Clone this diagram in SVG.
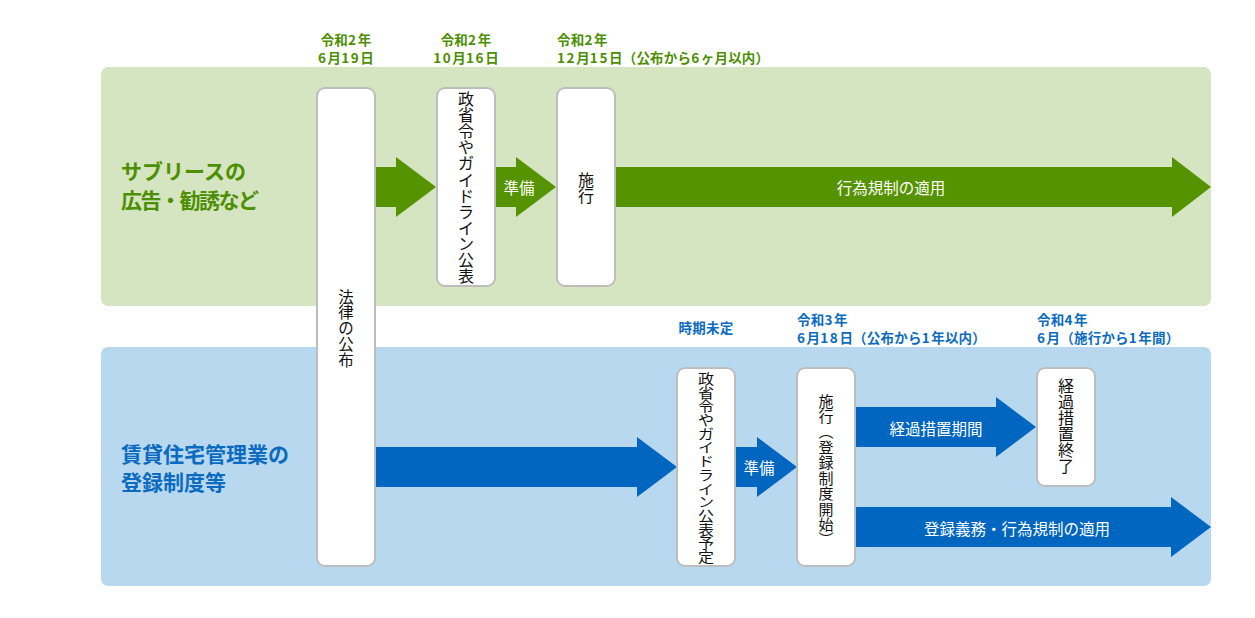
<svg xmlns="http://www.w3.org/2000/svg" width="1255" height="618" viewBox="0 0 1255 618">
<style>
.pg{fill:#d6e5c1}
.pb{fill:#b8d8ef}
.ag{fill:#559300}
.ab{fill:#0066bf}
.node rect{fill:#fff;stroke:#bdbdbd;stroke-width:2}
.vc{font-family:"Noto Sans CJK JP","Noto Sans",sans-serif;font-size:16px;fill:#111;text-anchor:middle;dominant-baseline:central}
.vt{font-family:"Noto Sans CJK JP","Noto Sans",sans-serif;font-size:15px;fill:#111;writing-mode:vertical-rl;text-anchor:middle}
.dg{font-family:"Noto Sans CJK JP",sans-serif;font-size:13.5px;font-weight:bold;fill:#4c8f00;letter-spacing:0.2px}
.db{font-family:"Noto Sans CJK JP",sans-serif;font-size:13.5px;font-weight:bold;fill:#0a6bc0;letter-spacing:0.2px}
.n{letter-spacing:1.6px}
.tg{font-family:"Noto Sans CJK JP",sans-serif;font-size:21px;font-weight:bold;fill:#4c8f00}
.tb{font-family:"Noto Sans CJK JP",sans-serif;font-size:21px;font-weight:bold;fill:#0a6bc0}
.wl{font-family:"Noto Sans CJK JP",sans-serif;font-size:15.5px;fill:#fff;text-anchor:middle;dominant-baseline:central}
</style>
<rect width="1255" height="618" fill="#fff"/>
<g id="panels">
<rect class="pg" x="101" y="67" width="1110" height="239" rx="7"/>
<rect class="pb" x="101" y="347" width="1110" height="239" rx="7"/>
</g>
<g id="titles">
<text class="tg" x="121" y="179">サブリースの</text>
<text class="tg" x="121" y="208" style="letter-spacing:-1.5px">広告・勧誘など</text>
<text class="tb" x="121" y="462">賃貸住宅管理業の</text>
<text class="tb" x="121" y="490">登録制度等</text>
</g>
<g id="dates">
<text class="dg" x="346" y="44.5" text-anchor="middle">令和<tspan class="n">2</tspan>年</text>
<text class="dg" x="346" y="62.5" text-anchor="middle"><tspan class="n">6</tspan>月<tspan class="n">19</tspan>日</text>
<text class="dg" x="466" y="44.5" text-anchor="middle">令和<tspan class="n">2</tspan>年</text>
<text class="dg" x="466" y="62.5" text-anchor="middle"><tspan class="n">10</tspan>月<tspan class="n">16</tspan>日</text>
<text class="dg" x="557" y="44.5">令和<tspan class="n">2</tspan>年</text>
<text class="dg" x="557" y="62.5"><tspan class="n">12</tspan>月<tspan class="n">15</tspan>日（公布から<tspan class="n">6</tspan>ヶ月以内）</text>
<text class="db" x="706" y="333" text-anchor="middle">時期未定</text>
<text class="db" x="797" y="325">令和<tspan class="n">3</tspan>年</text>
<text class="db" x="797" y="343"><tspan class="n">6</tspan>月<tspan class="n">18</tspan>日（公布から<tspan class="n">1</tspan>年以内）</text>
<text class="db" x="1037" y="325">令和<tspan class="n">4</tspan>年</text>
<text class="db" x="1037" y="343"><tspan class="n">6</tspan>月（施行から<tspan class="n">1</tspan>年間）</text>
</g>
<g id="connectors">
<polygon class="ag" points="370,167 396,167 396,157 436,187 396,217 396,207 370,207"/>
<polygon class="ag" points="494,167 516,167 516,157 556,187 516,217 516,207 494,207"/>
<polygon class="ag" points="614,167 1172,167 1172,157 1211,187 1172,217 1172,207 614,207"/>
<polygon class="ab" points="370,447 637,447 637,437 677,467 637,497 637,487 370,487"/>
<polygon class="ab" points="734,447 757,447 757,437 797,467 757,497 757,487 734,487"/>
<polygon class="ab" points="854,407 996,407 996,397 1036,427 996,457 996,447 854,447"/>
<polygon class="ab" points="854,507 1171,507 1171,497 1211,527 1171,557 1171,547 854,547"/>
<text class="wl" x="519" y="187">準備</text>
<text class="wl" x="891" y="187">行為規制の適用</text>
<text class="wl" x="759" y="467">準備</text>
<text class="wl" x="936" y="428">経過措置期間</text>
<text class="wl" x="1017" y="528">登録義務・行為規制の適用</text>
</g>
<g id="n-law" class="node">
<rect x="317" y="88" width="58" height="478" rx="8"/>
<text class="vc" style="font-size:15.5px" x="346 346 346 346 346" y="295.5 311.25 327 342.75 358.5">法律の公布</text>
</g>
<g id="n-guide1" class="node">
<rect x="437" y="88" width="58" height="198" rx="8"/>
<text class="vc" x="466 466 466 466 466 466 466 466 466 466 466 466" y="98 114.1 130.2 146.3 162.4 178.5 194.6 210.7 226.8 242.9 259 275">政省令やガイドライン公表</text>
</g>
<g id="n-enforce1" class="node">
<rect x="557" y="88" width="58" height="198" rx="8"/>
<text class="vc" x="586 586" y="178.5 194.5">施行</text>
</g>
<g id="n-guide2" class="node">
<rect x="677" y="368" width="58" height="198" rx="8"/>
<text class="vc" transform="matrix(1 0 0 0.85 0 70.05)" x="706 706 706 706 706 706 706 706 706 706 706 706 706 706" y="362.3 378.4 394.5 410.6 426.8 442.9 459 475.1 491.2 507.4 523.5 539.6 555.7 571.8">政省令やガイドライン公表予定</text>
</g>
<g id="n-enforce2" class="node">
<rect x="797" y="368" width="58" height="198" rx="8"/>
<text class="vc" style="font-size:15px" x="826 826" y="400 415.5">施行</text>
<text class="vt" x="826" y="431">（</text>
<text class="vc" style="font-size:15px" x="826 826 826 826 826 826" y="446 461.5 477 492.5 508 523.5">登録制度開始</text>
<text class="vt" x="826" y="539">）</text>
</g>
<g id="n-end" class="node">
<rect x="1037" y="368" width="58" height="118" rx="8"/>
<text class="vc" x="1066 1066 1066 1066 1066 1066" y="385 401 417 433 449 465">経過措置終了</text>
</g>
</svg>
